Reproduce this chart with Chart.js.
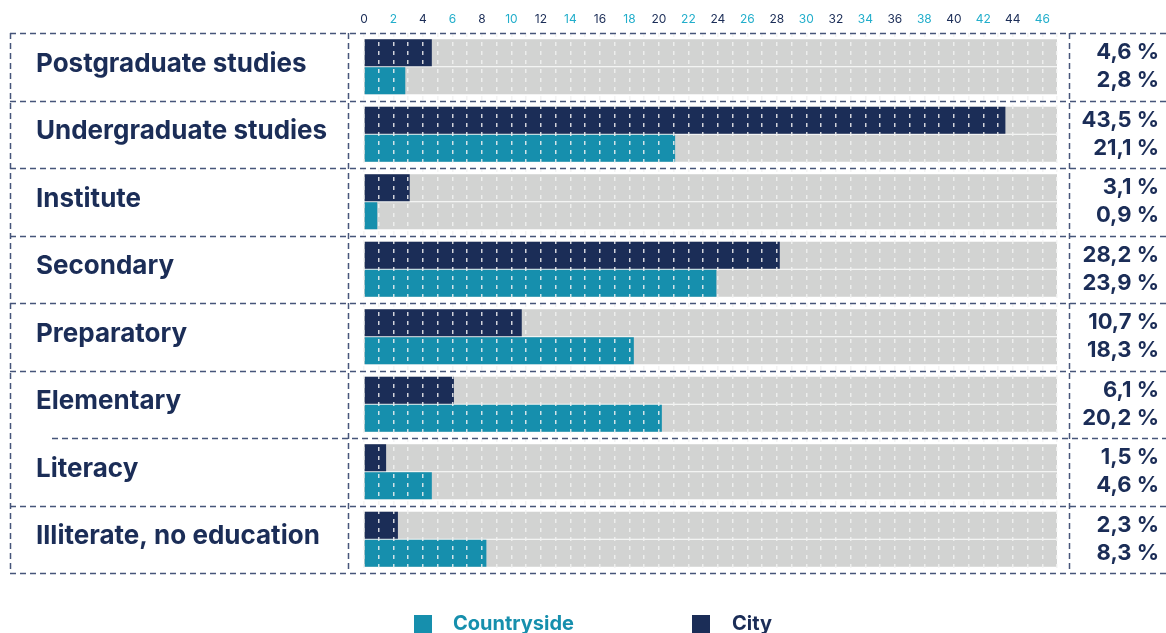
<!DOCTYPE html>
<html>
<head>
<meta charset="utf-8">
<script src="https://cdn.jsdelivr.net/npm/chart.js@4/dist/chart.umd.min.js"></script>
<style>
    html, body { margin: 0; padding: 0; background: #fff; overflow: hidden; }
    #wrap { position: relative; width: 1166px; height: 633px; overflow: hidden; }
    #chart_box { position: absolute; left: 0; top: 0; width: 1166px; height: 590px; }
    #legend { position: absolute; left: 0; top: 0; width: 1166px; height: 633px; pointer-events: none;
              font-family: Inter, "Liberation Sans", Arial, sans-serif; font-weight: bold; font-size: 20px; }
    .legend_box { position: absolute; top: 615px; width: 18px; height: 18px; }
    .legend_text { position: absolute; top: 611px; line-height: 24px; white-space: nowrap; }
</style>
</head>
<body>
<div id="wrap">
    <div id="chart_box"><canvas id="education_graph"></canvas></div>
    <div id="legend"></div>
</div>
<script>
const categories  = ["Postgraduate studies", "Undergraduate studies", "Institute", "Secondary",
                     "Preparatory", "Elementary", "Literacy", "Illiterate, no education"];
const city        = [4.6, 43.5, 3.1, 28.2, 10.7, 6.1, 1.5, 2.3];
const countryside = [2.8, 21.1, 0.9, 23.9, 18.3, 20.2, 4.6, 8.3];
const x_max       = 47;

const navy      = "#1b2d57";
const teal      = "#168fad";
const tick_teal = "#22aecb";
const track     = "#d2d3d2";
const divider   = "#46557a";
const font_name = "Inter, 'Liberation Sans', Arial, sans-serif";

function fmt(v){
    return v.toFixed(1).replace(".", ",") + " %";
}

let value_labels = [];
for (let i=0; i<categories.length; i++){
    value_labels.push([fmt(city[i]), fmt(countryside[i])]);
}

// gray track behind each bar, up to the end of the x scale
const track_plugin = {
    id: "track_plugin",
    beforeDatasetsDraw(chart){
        const ctx = chart.ctx;
        const x = chart.scales.x;
        const x0 = x.getPixelForValue(0);
        const x1 = x.getPixelForValue(x_max);
        ctx.save();
        ctx.fillStyle = track;
        for (let d=0; d<2; d++){
            for (let bar of chart.getDatasetMeta(d).data){
                ctx.fillRect(x0, bar.y - bar.height / 2, x1 - x0, bar.height);
            }
        }
        ctx.restore();
    }
};

// dashed table lines round the rows
const table_plugin = {
    id: "table_plugin",
    afterDraw(chart){
        const ctx = chart.ctx;
        const y = chart.scales.y;
        const top = chart.chartArea.top;
        const bottom = chart.chartArea.bottom;
        let rows = [top];
        for (let i=0; i<categories.length - 1; i++){
            rows.push((y.getPixelForValue(i) + y.getPixelForValue(i + 1)) / 2);
        }
        rows.push(bottom);

        ctx.save();
        ctx.strokeStyle = divider;
        ctx.lineWidth = 1.5;
        ctx.setLineDash([6, 4]);
        for (let i=0; i<rows.length; i++){
            let left = (i == 6) ? 52 : 10;
            let ry = Math.round(rows[i]) + 0.5;
            ctx.beginPath();
            ctx.moveTo(left, ry);
            ctx.lineTo(1166, ry);
            ctx.stroke();
        }
        for (let vx of [10.5, 348.5, 1069.5]){
            ctx.beginPath();
            ctx.moveTo(vx, top);
            ctx.lineTo(vx, bottom);
            ctx.stroke();
        }
        ctx.restore();
    }
};

// keep the row labels from pushing the plot area in
function no_pad(scale){
    scale.paddingTop = 0;
    scale.paddingBottom = 0;
}

const ctx = document.getElementById("education_graph").getContext("2d");
const myChart = new Chart(ctx, {
    type: "bar",
    data: {
        labels: categories,
        datasets: [
            {
                label: "City",
                data: city,
                backgroundColor: navy,
                stack: "city",
                categoryPercentage: 0.83,
                barPercentage: 0.965
            },
            {
                label: "Countryside",
                data: countryside,
                backgroundColor: teal,
                stack: "countryside",
                categoryPercentage: 0.83,
                barPercentage: 0.965
            }
        ]
    },
    options: {
        indexAxis: "y",
        responsive: true,
        maintainAspectRatio: false,
        animation: false,
        layout: {
            padding: { left: 36, right: 7, top: 0, bottom: 17 }
        },
        scales: {
            x: {
                position: "top",
                stacked: false,
                min: 0,
                max: x_max,
                afterFit: (scale) => { scale.height = 33; },
                grid: {
                    z: 1,
                    color: "rgba(242,242,242,0.85)",
                    lineWidth: 1.5,
                    drawTicks: false
                },
                border: { display: false, dash: [4, 5] },
                ticks: {
                    stepSize: 1,
                    autoSkip: false,
                    maxRotation: 0,
                    padding: 6,
                    font: { family: font_name, size: 12 },
                    color: (c) => (c.tick.value % 4 === 0 ? navy : tick_teal),
                    callback: (v) => (v % 2 === 0 ? String(v) : "")
                }
            },
            y: {
                position: "left",
                afterFit: (scale) => { scale.width = 328; no_pad(scale); },
                grid: { display: false },
                border: { display: false },
                ticks: {
                    crossAlign: "far",
                    labelOffset: -3,
                    color: navy,
                    font: { family: font_name, size: 26, weight: "bold" }
                }
            },
            y2: {
                type: "category",
                position: "right",
                labels: value_labels,
                offset: true,
                afterFit: (scale) => { scale.width = 102; no_pad(scale); },
                grid: { display: false },
                border: { display: false },
                ticks: {
                    crossAlign: "far",
                    color: navy,
                    font: { family: font_name, size: 22, weight: "bold", lineHeight: 1.27 }
                }
            }
        },
        plugins: {
            legend: { display: false },
            tooltip: { enabled: false }
        }
    },
    plugins: [track_plugin, table_plugin]
});

// legend below the chart, countryside first
const legend_pos = { "Countryside": [414, 453], "City": [692, 732] };
let legend_html = "";
for (let ds of myChart.data.datasets.slice().reverse()){
    let pos = legend_pos[ds.label];
    legend_html += '<div class="legend_box" style="left:' + pos[0] + 'px;background:' + ds.backgroundColor + '"></div>';
    legend_html += '<div class="legend_text" style="left:' + pos[1] + 'px;color:' + ds.backgroundColor + '">' + ds.label + '</div>';
}
document.getElementById("legend").innerHTML = legend_html;
</script>
</body>
</html>
